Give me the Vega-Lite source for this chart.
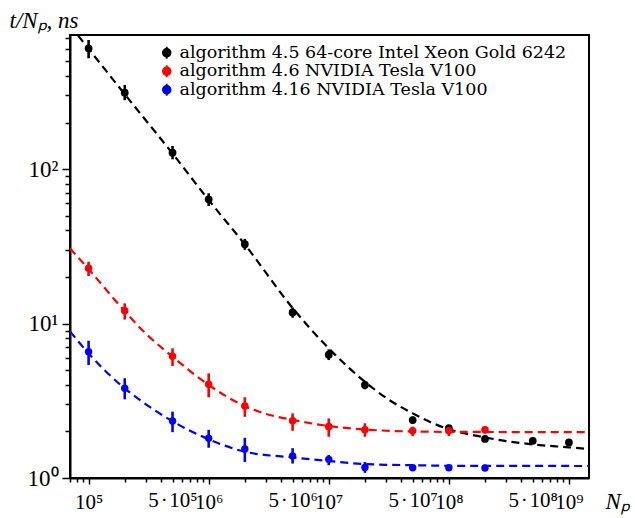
{
  "$schema": "https://vega.github.io/schema/vega-lite/v6.json",
  "width": 519,
  "height": 443,
  "autosize": "none",
  "padding": {"left": 70, "top": 35, "right": 46, "bottom": 40},
  "background": "white",
  "config": {
    "view": {"stroke": "black", "strokeWidth": 2},
    "font": "Liberation Serif"
  },
  "datasets": {
    "pts": [
      {"series": "algorithm 4.5 64-core Intel Xeon Gold 6242", "N": 100000, "t": 604, "lo": 521, "hi": 684},
      {"series": "algorithm 4.5 64-core Intel Xeon Gold 6242", "N": 200000, "t": 312, "lo": 279, "hi": 350},
      {"series": "algorithm 4.5 64-core Intel Xeon Gold 6242", "N": 500000, "t": 127.5, "lo": 115.6, "hi": 141},
      {"series": "algorithm 4.5 64-core Intel Xeon Gold 6242", "N": 1000000, "t": 63.7, "lo": 57.6, "hi": 69.6},
      {"series": "algorithm 4.5 64-core Intel Xeon Gold 6242", "N": 2000000, "t": 32.6, "lo": 30.0, "hi": 35.3},
      {"series": "algorithm 4.5 64-core Intel Xeon Gold 6242", "N": 5000000, "t": 11.8, "lo": 10.9, "hi": 12.7},
      {"series": "algorithm 4.5 64-core Intel Xeon Gold 6242", "N": 10000000, "t": 6.28, "lo": 5.8, "hi": 6.8},
      {"series": "algorithm 4.5 64-core Intel Xeon Gold 6242", "N": 20000000, "t": 4.0, "lo": 3.75, "hi": 4.25},
      {"series": "algorithm 4.5 64-core Intel Xeon Gold 6242", "N": 50000000, "t": 2.37, "lo": 2.25, "hi": 2.5},
      {"series": "algorithm 4.5 64-core Intel Xeon Gold 6242", "N": 100000000, "t": 2.10, "lo": 2.0, "hi": 2.2},
      {"series": "algorithm 4.5 64-core Intel Xeon Gold 6242", "N": 200000000, "t": 1.79, "lo": 1.72, "hi": 1.86},
      {"series": "algorithm 4.5 64-core Intel Xeon Gold 6242", "N": 500000000, "t": 1.74, "lo": 1.67, "hi": 1.81},
      {"series": "algorithm 4.5 64-core Intel Xeon Gold 6242", "N": 1000000000, "t": 1.70, "lo": 1.63, "hi": 1.77},
      {"series": "algorithm 4.6 NVIDIA Tesla V100", "N": 100000, "t": 22.8, "lo": 20.3, "hi": 25.1},
      {"series": "algorithm 4.6 NVIDIA Tesla V100", "N": 200000, "t": 12.1, "lo": 10.6, "hi": 13.5},
      {"series": "algorithm 4.6 NVIDIA Tesla V100", "N": 500000, "t": 6.13, "lo": 5.31, "hi": 6.91},
      {"series": "algorithm 4.6 NVIDIA Tesla V100", "N": 1000000, "t": 4.04, "lo": 3.33, "hi": 4.76},
      {"series": "algorithm 4.6 NVIDIA Tesla V100", "N": 2000000, "t": 2.92, "lo": 2.49, "hi": 3.33},
      {"series": "algorithm 4.6 NVIDIA Tesla V100", "N": 5000000, "t": 2.35, "lo": 2.02, "hi": 2.62},
      {"series": "algorithm 4.6 NVIDIA Tesla V100", "N": 10000000, "t": 2.15, "lo": 1.85, "hi": 2.43},
      {"series": "algorithm 4.6 NVIDIA Tesla V100", "N": 20000000, "t": 2.05, "lo": 1.85, "hi": 2.26},
      {"series": "algorithm 4.6 NVIDIA Tesla V100", "N": 50000000, "t": 2.02, "lo": 1.87, "hi": 2.15},
      {"series": "algorithm 4.6 NVIDIA Tesla V100", "N": 100000000, "t": 2.02, "lo": 1.87, "hi": 2.2},
      {"series": "algorithm 4.6 NVIDIA Tesla V100", "N": 200000000, "t": 2.05, "lo": 1.94, "hi": 2.15},
      {"series": "algorithm 4.16 NVIDIA Tesla V100", "N": 100000, "t": 6.57, "lo": 5.39, "hi": 7.74},
      {"series": "algorithm 4.16 NVIDIA Tesla V100", "N": 200000, "t": 3.81, "lo": 3.23, "hi": 4.42},
      {"series": "algorithm 4.16 NVIDIA Tesla V100", "N": 500000, "t": 2.34, "lo": 1.98, "hi": 2.69},
      {"series": "algorithm 4.16 NVIDIA Tesla V100", "N": 1000000, "t": 1.81, "lo": 1.57, "hi": 2.05},
      {"series": "algorithm 4.16 NVIDIA Tesla V100", "N": 2000000, "t": 1.54, "lo": 1.27, "hi": 1.82},
      {"series": "algorithm 4.16 NVIDIA Tesla V100", "N": 5000000, "t": 1.39, "lo": 1.24, "hi": 1.56},
      {"series": "algorithm 4.16 NVIDIA Tesla V100", "N": 10000000, "t": 1.32, "lo": 1.21, "hi": 1.41},
      {"series": "algorithm 4.16 NVIDIA Tesla V100", "N": 20000000, "t": 1.17, "lo": 1.08, "hi": 1.27},
      {"series": "algorithm 4.16 NVIDIA Tesla V100", "N": 50000000, "t": 1.166, "lo": 1.13, "hi": 1.2},
      {"series": "algorithm 4.16 NVIDIA Tesla V100", "N": 100000000, "t": 1.166, "lo": 1.13, "hi": 1.2},
      {"series": "algorithm 4.16 NVIDIA Tesla V100", "N": 200000000, "t": 1.16, "lo": 1.13, "hi": 1.19}
    ],
    "curves": [
      {"series": "algorithm 4.5 64-core Intel Xeon Gold 6242", "N": 70000, "t": 850},
      {"series": "algorithm 4.5 64-core Intel Xeon Gold 6242", "N": 100000, "t": 600},
      {"series": "algorithm 4.5 64-core Intel Xeon Gold 6242", "N": 200000, "t": 305},
      {"series": "algorithm 4.5 64-core Intel Xeon Gold 6242", "N": 500000, "t": 126},
      {"series": "algorithm 4.5 64-core Intel Xeon Gold 6242", "N": 1000000, "t": 63},
      {"series": "algorithm 4.5 64-core Intel Xeon Gold 6242", "N": 2000000, "t": 32.5},
      {"series": "algorithm 4.5 64-core Intel Xeon Gold 6242", "N": 5000000, "t": 12.6},
      {"series": "algorithm 4.5 64-core Intel Xeon Gold 6242", "N": 10000000, "t": 6.9},
      {"series": "algorithm 4.5 64-core Intel Xeon Gold 6242", "N": 20000000, "t": 4.2},
      {"series": "algorithm 4.5 64-core Intel Xeon Gold 6242", "N": 30000000, "t": 3.3},
      {"series": "algorithm 4.5 64-core Intel Xeon Gold 6242", "N": 50000000, "t": 2.62},
      {"series": "algorithm 4.5 64-core Intel Xeon Gold 6242", "N": 70000000, "t": 2.3},
      {"series": "algorithm 4.5 64-core Intel Xeon Gold 6242", "N": 100000000, "t": 2.07},
      {"series": "algorithm 4.5 64-core Intel Xeon Gold 6242", "N": 200000000, "t": 1.83},
      {"series": "algorithm 4.5 64-core Intel Xeon Gold 6242", "N": 500000000, "t": 1.65},
      {"series": "algorithm 4.5 64-core Intel Xeon Gold 6242", "N": 1000000000, "t": 1.58},
      {"series": "algorithm 4.5 64-core Intel Xeon Gold 6242", "N": 1470000000, "t": 1.54},
      {"series": "algorithm 4.6 NVIDIA Tesla V100", "N": 70000, "t": 30.7},
      {"series": "algorithm 4.6 NVIDIA Tesla V100", "N": 100000, "t": 22.5},
      {"series": "algorithm 4.6 NVIDIA Tesla V100", "N": 200000, "t": 12.0},
      {"series": "algorithm 4.6 NVIDIA Tesla V100", "N": 300000, "t": 8.6},
      {"series": "algorithm 4.6 NVIDIA Tesla V100", "N": 500000, "t": 6.1},
      {"series": "algorithm 4.6 NVIDIA Tesla V100", "N": 1000000, "t": 4.0},
      {"series": "algorithm 4.6 NVIDIA Tesla V100", "N": 2000000, "t": 2.92},
      {"series": "algorithm 4.6 NVIDIA Tesla V100", "N": 3000000, "t": 2.6},
      {"series": "algorithm 4.6 NVIDIA Tesla V100", "N": 5000000, "t": 2.38},
      {"series": "algorithm 4.6 NVIDIA Tesla V100", "N": 10000000, "t": 2.17},
      {"series": "algorithm 4.6 NVIDIA Tesla V100", "N": 20000000, "t": 2.06},
      {"series": "algorithm 4.6 NVIDIA Tesla V100", "N": 50000000, "t": 2.0},
      {"series": "algorithm 4.6 NVIDIA Tesla V100", "N": 100000000, "t": 1.99},
      {"series": "algorithm 4.6 NVIDIA Tesla V100", "N": 1470000000, "t": 1.98},
      {"series": "algorithm 4.16 NVIDIA Tesla V100", "N": 70000, "t": 8.9},
      {"series": "algorithm 4.16 NVIDIA Tesla V100", "N": 100000, "t": 6.4},
      {"series": "algorithm 4.16 NVIDIA Tesla V100", "N": 200000, "t": 3.8},
      {"series": "algorithm 4.16 NVIDIA Tesla V100", "N": 300000, "t": 3.0},
      {"series": "algorithm 4.16 NVIDIA Tesla V100", "N": 500000, "t": 2.33},
      {"series": "algorithm 4.16 NVIDIA Tesla V100", "N": 1000000, "t": 1.78},
      {"series": "algorithm 4.16 NVIDIA Tesla V100", "N": 2000000, "t": 1.48},
      {"series": "algorithm 4.16 NVIDIA Tesla V100", "N": 5000000, "t": 1.36},
      {"series": "algorithm 4.16 NVIDIA Tesla V100", "N": 10000000, "t": 1.29},
      {"series": "algorithm 4.16 NVIDIA Tesla V100", "N": 20000000, "t": 1.23},
      {"series": "algorithm 4.16 NVIDIA Tesla V100", "N": 50000000, "t": 1.21},
      {"series": "algorithm 4.16 NVIDIA Tesla V100", "N": 100000000, "t": 1.2},
      {"series": "algorithm 4.16 NVIDIA Tesla V100", "N": 1470000000, "t": 1.196}
    ]
  },
  "encoding": {
    "x": {
      "field": "N", "type": "quantitative",
      "scale": {"type": "log", "domain": [70000, 1470000000], "nice": false},
      "axis": {
        "values": [70000, 80000, 90000, 100000, 200000, 300000, 400000, 500000, 600000, 700000, 800000, 900000, 1000000, 2000000, 3000000, 4000000, 5000000, 6000000, 7000000, 8000000, 9000000, 10000000, 20000000, 30000000, 40000000, 50000000, 60000000, 70000000, 80000000, 90000000, 100000000, 200000000, 300000000, 400000000, 500000000, 600000000, 700000000, 800000000, 900000000, 1000000000],
        "labelExpr": "(abs(log(datum.value)/LN10 - round(log(datum.value)/LN10)) < 0.001) ? '10' + ['⁰','¹','²','³','⁴','⁵','⁶','⁷','⁸','⁹'][round(log(datum.value)/LN10)] : ((abs(datum.value / pow(10, floor(log(datum.value)/LN10 + 0.001)) - 5) < 0.01) ? '5\u200a·\u200a10' + ['⁰','¹','²','³','⁴','⁵','⁶','⁷','⁸','⁹'][floor(log(datum.value)/LN10 + 0.001)] : '')",
        "tickSize": {"condition": {"test": "abs(log(datum.value)/LN10 - round(log(datum.value)/LN10)) < 0.001", "value": 6}, "value": 4},
        "tickColor": "black", "tickWidth": 1.5,
        "domainColor": "black", "domainWidth": 2,
        "grid": false,
        "labelFont": "Liberation Serif", "labelFontSize": 21, "labelColor": "black",
        "labelPadding": 7, "labelOverlap": false, "labelFlush": false, "labelBound": false,
        "title": "Nₚ", "titleFont": "Liberation Serif", "titleFontSize": 23, "titleFontStyle": "italic", "titleFontWeight": "normal", "titleColor": "black",
        "titleX": 535, "titleY": 30, "titleAlign": "left", "titleBaseline": "alphabetic"
      }
    },
    "y": {
      "field": "t", "type": "quantitative",
      "scale": {"type": "log", "domain": [1, 737], "nice": false},
      "axis": {
        "values": [1, 2, 3, 4, 5, 6, 7, 8, 9, 10, 20, 30, 40, 50, 60, 70, 80, 90, 100, 200, 300, 400, 500, 600, 700],
        "labelExpr": "(abs(log(datum.value)/LN10 - round(log(datum.value)/LN10)) < 0.001) ? '10' + ['⁰','¹','²','³','⁴','⁵','⁶','⁷','⁸','⁹'][round(log(datum.value)/LN10)] : ''",
        "tickSize": {"condition": {"test": "abs(log(datum.value)/LN10 - round(log(datum.value)/LN10)) < 0.001", "value": 8}, "value": 5},
        "tickColor": "black", "tickWidth": 1.5,
        "domainColor": "black", "domainWidth": 2,
        "grid": false,
        "labelFont": "Liberation Serif", "labelFontSize": 23, "labelColor": "black",
        "labelPadding": 4, "labelOverlap": false, "labelFlush": false, "labelBound": false,
        "title": "t/Nₚ, ns", "titleFont": "Liberation Serif", "titleFontSize": 23, "titleFontStyle": "italic", "titleFontWeight": "normal", "titleColor": "black",
        "titleAngle": 0, "titleX": -61, "titleY": -8, "titleAlign": "left", "titleBaseline": "alphabetic"
      }
    }
  },
  "layer": [
    {
      "data": {"name": "curves"},
      "mark": {"type": "line", "strokeDash": [8, 5], "strokeWidth": 2.2, "clip": true, "interpolate": "monotone"},
      "encoding": {
        "stroke": {"field": "series", "type": "nominal",
          "scale": {"domain": ["algorithm 4.16 NVIDIA Tesla V100", "algorithm 4.5 64-core Intel Xeon Gold 6242", "algorithm 4.6 NVIDIA Tesla V100"], "range": ["#0000ff", "#000000", "#ff0000"]},
          "legend": null},
        "detail": {"field": "series"}
      }
    },
    {
      "data": {"name": "pts"},
      "mark": {"type": "rule", "strokeWidth": 2.6, "clip": true},
      "encoding": {
        "y": {"field": "lo", "type": "quantitative"},
        "y2": {"field": "hi"},
        "stroke": {"field": "series", "type": "nominal", "legend": null}
      }
    },
    {
      "data": {"name": "pts"},
      "mark": {"type": "point", "filled": true, "shape": "circle", "opacity": 1, "strokeWidth": 0},
      "encoding": {
        "color": {"field": "series", "type": "nominal",
          "scale": {"domain": ["algorithm 4.5 64-core Intel Xeon Gold 6242", "algorithm 4.6 NVIDIA Tesla V100", "algorithm 4.16 NVIDIA Tesla V100"], "range": ["#000000", "#ff0000", "#0000ff"]},
          "legend": {
            "orient": "none", "legendX": 88, "legendY": 9, "title": null, "padding": 0,
            "symbolType": "M0.8,0 A0.8,0.8 0 1,1 -0.8,0 A0.8,0.8 0 1,1 0.8,0 Z M-0.15,-1 L0.15,-1 L0.15,1 L-0.15,1 Z",
            "symbolSize": 140, "symbolStrokeWidth": 0, "symbolOpacity": 1,
            "labelFont": "DejaVu Serif", "labelFontSize": 17.5, "labelColor": "black", "labelLimit": 600,
            "labelOffset": 4, "rowPadding": -0.5
          }},
        "size": {"field": "series", "type": "nominal",
          "scale": {"domain": ["algorithm 4.16 NVIDIA Tesla V100", "algorithm 4.6 NVIDIA Tesla V100", "algorithm 4.5 64-core Intel Xeon Gold 6242"], "range": [55, 60, 85]},
          "legend": null}
      }
    }
  ]
}
